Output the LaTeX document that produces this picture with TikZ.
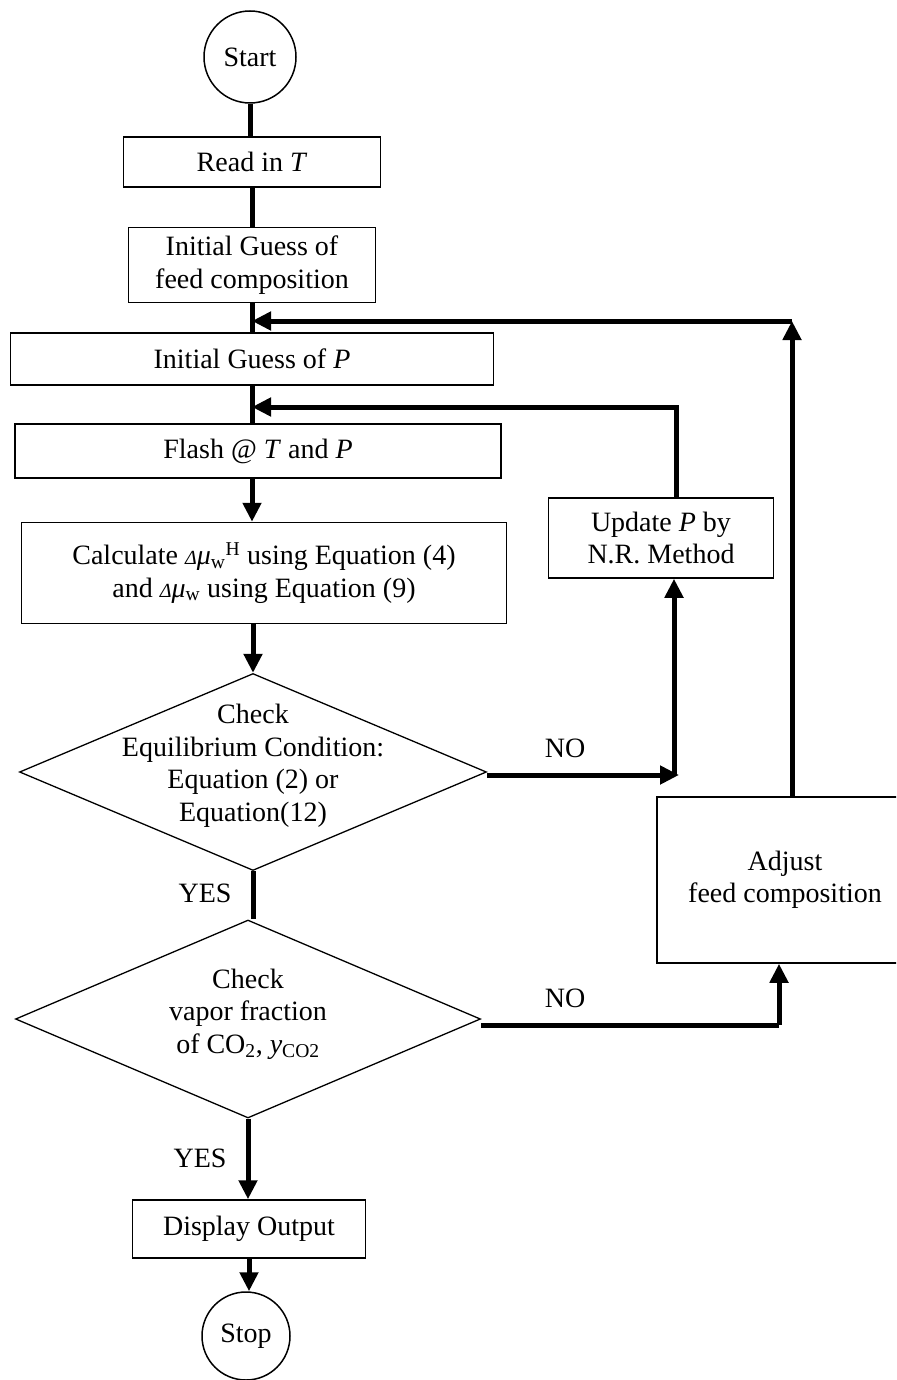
\documentclass[tikz,border=0pt]{standalone}
\usepackage{fontspec}
\setmainfont{Liberation Serif}
\usetikzlibrary{arrows.meta,shapes.geometric,calc}
\begin{document}
\begin{tikzpicture}[x=1pt,y=-1pt,
  every node/.style={font=\fontsize{28}{32.5}\selectfont},
  box/.style={draw,line width=1.5pt,rectangle,inner sep=0pt,align=center},
  term/.style={draw,line width=1.5pt,circle,inner sep=0pt},
  dia/.style={draw,line width=1.3pt,diamond,inner sep=0pt},
  conn/.style={line width=5pt},
  arr/.style={line width=5pt,-{Triangle[width=18pt,length=19pt]}},
  lbl/.style={inner sep=0pt}]
\useasboundingbox (0,0) rectangle (896,1380);
\clip (0,0) rectangle (896,1380);
% nodes
\node[term,minimum size=92pt] (start) at (250,57) {Start};
\node[box,minimum width=257pt,minimum height=50pt] (read) at (252,162) {Read in \textit{T}};
\node[box,minimum width=247pt,minimum height=75pt] (init) at (252,265) {Initial Guess of\\feed composition};
\node[box,minimum width=483pt,minimum height=52pt] (initP) at (252,359) {Initial Guess of \textit{P}};
\node[box,minimum width=486pt,minimum height=54pt] (flash) at (258,451) {Flash @ \textit{T} and \textit{P}};
\node[box,minimum width=485pt,minimum height=101pt] (calc) at (264,573)
  {Calculate {\fontsize{20}{20}\selectfont\itshape Δ}\textit{μ}\textsubscript{w}\textsuperscript{H} using Equation (4)\\
   and {\fontsize{20}{20}\selectfont\itshape Δ}\textit{μ}\textsubscript{w} using Equation (9)};
\node[box,minimum width=225pt,minimum height=80pt] (update) at (661,538) {Update \textit{P} by\\N.R. Method};
\node[dia,minimum width=467pt,minimum height=197pt] (d1) at (253,772) {};
\node[lbl,align=center] (d1t) at (253,766) {Check\\Equilibrium Condition:\\Equation (2) or\\Equation(12)};
\node[dia,minimum width=465pt,minimum height=198pt] (d2) at (248,1019) {};
\node[lbl,align=center] (d2t) at (248,1014) {Check\\vapor fraction\\of CO\textsubscript{2}, \textit{y}\textsubscript{CO2}};
\node[box,minimum width=256pt,minimum height=166pt] (adjust) at (785,880) {Adjust\\feed composition};
\node[box,minimum width=233pt,minimum height=58pt] (display) at (249,1229) {Display Output};
\node[term,minimum size=88pt] (stop) at (246,1336) {Stop};
% coordinates
\coordinate (j1) at (252,321);
\coordinate (j2) at (252,407);
\coordinate (n1) at (679,775);
\coordinate (c1) at (792,321);
\coordinate (c2) at (779,1025);
% main column
\draw[conn] (start.south) -- (start.south |- read.north);
\draw[conn] (read.south) -- (read.south |- init.north);
\draw[conn] (init.south) -- (init.south |- initP.north);
\draw[conn] (initP.south) -- (initP.south |- flash.north);
\draw[arr] (flash.south -| j2) -- (j2 |- calc.north);
\draw[arr] (calc.south -| d1.north) -- (d1.north);
\draw[conn] (d1.south) -- (d1.south |- d2.north);
\draw[arr] (d2.south) -- (d2.south |- display.north);
\draw[arr] (display.south) -- (display.south |- stop.north);
% NO branch 1
\draw[arr] (d1.east |- n1) -- (n1);
\draw[arr] ([xshift=-5pt]n1) -- ([xshift=-5pt]n1 |- update.south);
\draw[arr] ([xshift=15pt]update.north) |- (j2);
% NO branch 2
\draw[line width=5pt] (d2.east |- c2) -- (c2);
\draw[arr] (c2) -- (c2 |- adjust.south);
\draw[arr] (adjust.north -| c1) -- (c1);
\draw[arr] (c1) -- (j1);
% labels
\node[lbl] (no1) at (565,748) {NO};
\node[lbl] (no2) at (565,998) {NO};
\node[lbl] (yes1) at (205,893) {YES};
\node[lbl] (yes2) at (200,1158) {YES};
\end{tikzpicture}
\end{document}
